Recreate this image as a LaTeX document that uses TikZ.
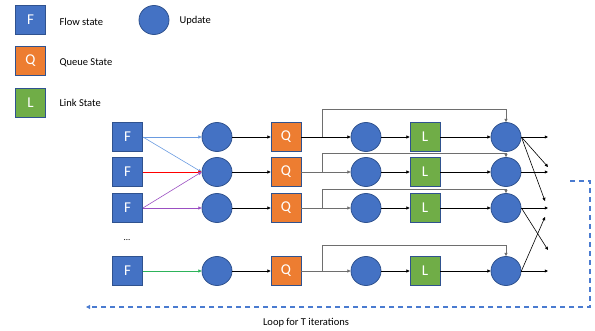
\documentclass[tikz,border=0pt]{standalone}
\usepackage{fontspec}
\setmainfont{Carlito}
\usetikzlibrary{arrows.meta,shapes.geometric}
\definecolor{fblue}{HTML}{4472C4}
\definecolor{fborder}{HTML}{2F528F}
\definecolor{qorange}{HTML}{ED7D31}
\definecolor{lgreen}{HTML}{70AD47}
\definecolor{lineblue}{HTML}{6A9BE0}
\definecolor{linepurple}{HTML}{9B4FC2}
\definecolor{linegreen}{HTML}{2DB35A}
\definecolor{linegray}{HTML}{6E6E6E}
\definecolor{loopblue}{HTML}{4A7BD0}
\tikzset{
  statebox/.style={draw, line width=0.8pt, minimum width=30pt, minimum height=29pt, inner sep=0pt, text=white, font=\fontsize{15}{15}\selectfont},
  fbox/.style={statebox, fill=fblue, draw=fborder},
  qbox/.style={statebox, fill=qorange, draw=fborder},
  lbox/.style={statebox, fill=lgreen, draw=fborder},
  upd/.style={ellipse, draw=fborder, fill=fblue, line width=0.8pt, minimum width=30pt, minimum height=29pt, inner sep=0pt},
  lbl/.style={anchor=west, font=\fontsize{10.5}{12}\selectfont},
  conn/.style={line width=0.6pt, -{Triangle[length=3.2pt,width=3pt]}},
  byp/.style={line width=0.7pt, draw=linegray},
}
\begin{document}
\begin{tikzpicture}[x=1pt,y=-1pt]
\useasboundingbox (0,0) rectangle (595,331);
% legend
\node[fbox] (lf) at (30.5,20) {F};
\node[lbl] (lft) at (56,22) {Flow state};
\node[qbox] (lq) at (30.5,61) {Q};
\node[lbl] (lqt) at (56,63) {Queue State};
\node[lbox] (ll) at (30.5,102.5) {L};
\node[lbl] (llt) at (56,102.5) {Link State};
\node[upd] (lu) at (154,20) {};
\node[lbl] (lut) at (176,21) {Update};
% main grid
\foreach \r/\y in {a/137,b/172,c/208,d/271}{
  \node[fbox] (F\r) at (127.5,\y) {F};
  \node[upd] (A\r) at (217,\y) {};
  \node[qbox] (Q\r) at (286,\y) {Q};
  \node[upd] (B\r) at (366,\y) {};
  \node[lbox] (L\r) at (425,\y) {L};
  \node[upd] (C\r) at (506,\y) {};
  \coordinate (s\r) at (322,\y);
  \coordinate (o\r) at (548,\y);
}
\node[font=\fontsize{9}{9}\selectfont] (dots) at (127,240) {...};
% F -> update
\draw[conn, draw=lineblue] (Fa.east) -- (Aa.west);
\draw[conn, draw=lineblue] (Fa.east) -- (Ab.west);
\draw[conn, draw=red] (Fb.east) -- (Ab.west);
\draw[conn, draw=linepurple] (Fc.east) -- (Ab.west);
\draw[conn, draw=linepurple] (Fc.east) -- (Ac.west);
\draw[conn, draw=linegreen] (Fd.east) -- (Ad.west);
% update -> Q etc.
\foreach \r in {a,b,c,d}{
  \draw[conn] (A\r.east) -- (Q\r.west);
  \draw[conn] (B\r.east) -- (L\r.west);
  \draw[conn] (L\r.east) -- (C\r.west);
  \draw[conn] (C\r.east) -- (o\r);
}
\draw[line width=0.6pt] (Qa.east) -- (sa);
\draw[conn] (sa) -- (Ba.west);
\foreach \r in {b,c,d}{
  \draw[byp] (Q\r.east) -- (s\r);
  \draw[conn, draw=linegray] (s\r) -- (B\r.west);
}
% bypass lines
\coordinate (ta) at (0,109);
\coordinate (tb) at (0,153);
\coordinate (tc) at (0,189);
\coordinate (td) at (0,245);
\foreach \r in {a,b,c,d}{
  \draw[byp, -{Triangle[length=3.2pt,width=3pt]}] (s\r) -- (s\r |- t\r) -| (C\r.north);
}
% cross outputs
\coordinate (x1) at (548,167);
\coordinate (x2) at (545,201);
\coordinate (x3) at (548,250);
\coordinate (x4) at (545,217);
\draw[conn] (Ca.east) -- (x1);
\draw[conn] (Ca.east) -- (x2);
\draw[conn] (Cc.east) -- (x3);
\draw[conn] (Cd.east) -- (x4);
% loop
\coordinate (p1) at (570,181);
\coordinate (p2) at (590,181);
\coordinate (p3) at (590,307);
\coordinate (p4) at (86,307);
\draw[draw=loopblue, line width=1.2pt, dash pattern=on 5pt off 4pt, -{Triangle[length=4pt,width=4pt]}] (p1) -- (p2) -- (p3) -- (p4);
\node[font=\fontsize{10.5}{12}\selectfont] (looplbl) at (306,323) {Loop for T iterations};
\end{tikzpicture}
\end{document}
